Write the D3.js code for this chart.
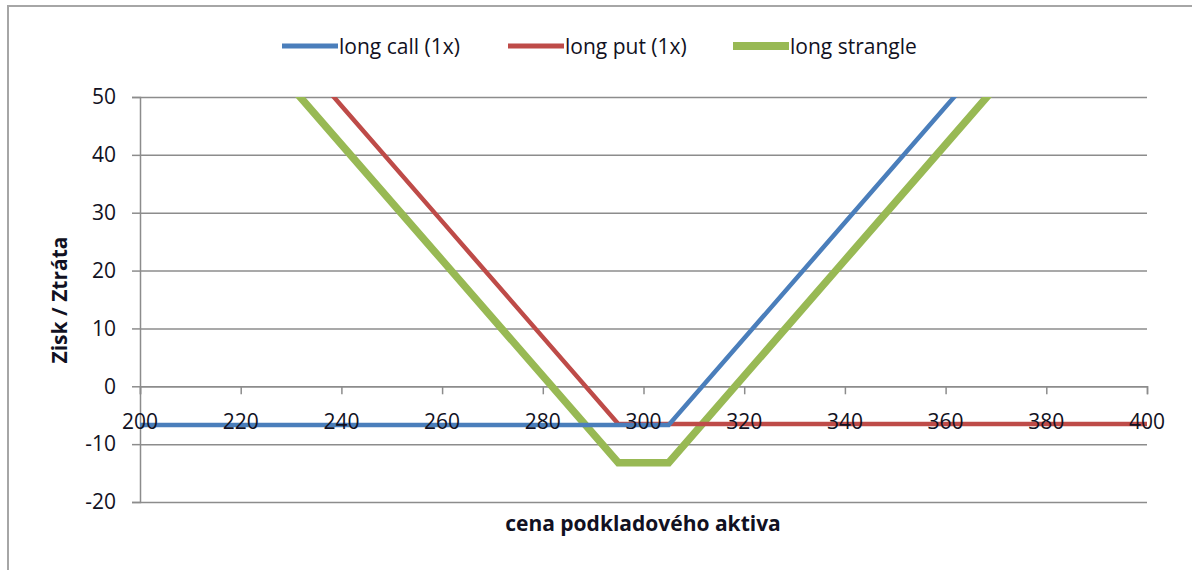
<!DOCTYPE html>
<html><head><meta charset="utf-8">
<script src="https://cdn.jsdelivr.net/npm/d3@7"></script>
<style>
body{margin:0;background:#fff;}
text{font-family:"Open Sans","Liberation Sans",sans-serif;}
</style></head><body>
<svg id="c" width="1192" height="570"></svg>
<script>
const prices = [200, 220, 240, 260, 280, 295, 300, 305, 320, 340, 360, 380, 400];
const longCall = [-6.7, -6.7, -6.7, -6.7, -6.7, -6.7, -6.7, -6.7, 8.3, 28.3, 48.3, 68.3, 88.3];
const longPut = [88.5, 68.5, 48.5, 28.5, 8.5, -6.5, -6.5, -6.5, -6.5, -6.5, -6.5, -6.5, -6.5];
const longStrangle = [81.8, 61.8, 41.8, 21.8, 1.8, -13.2, -13.2, -13.2, 1.8, 21.8, 41.8, 61.8, 81.8];
const seriesNames = ["long call (1x)", "long put (1x)", "long strangle"];
const seriesColors = ["#4a7ebb", "#be4b48", "#98b954"];
const seriesWidths = [4.5, 4.5, 7.5];
const xTicks = [200, 220, 240, 260, 280, 300, 320, 340, 360, 380, 400];
const yTicks = [-20, -10, 0, 10, 20, 30, 40, 50];
const xTitle = "cena podkladového aktiva";
const yTitle = "Zisk / Ztráta";

const svg = d3.select("#c");
const L = 140, R = 1147, T = 97, B = 502;
const x = d3.scaleLinear().domain([200, 400]).range([L, R]);
const y = d3.scaleLinear().domain([-20, 50]).range([B, T]);
const txt = "#111122";

// outer border
svg.append("path").attr("d", `M8,570 L8,6 L1192,6`).attr("fill","none").attr("stroke","#a6a6a6").attr("stroke-width",2);

// gridlines + y axis
const yAxis = d3.axisLeft(y).tickValues(yTicks).tickSize(8).tickPadding(10).tickFormat(d => String(d));
const gy = svg.append("g").attr("transform", `translate(${L},0)`).call(yAxis);
gy.select(".domain").attr("stroke","#8c8c8c").attr("stroke-width",1.5);
gy.selectAll(".tick line").attr("stroke","#8c8c8c").attr("stroke-width",1.5);
gy.selectAll(".tick text").attr("font-size",21).attr("fill",txt).attr("dx",-6);
gy.selectAll(".tick").append("line").attr("x1",0).attr("x2",R-L).attr("stroke","#8c8c8c").attr("stroke-width",1.5);

// x axis at y=0
const xAxis = d3.axisBottom(x).tickValues(xTicks).tickSize(8).tickFormat(d => String(d));

svg.append("clipPath").attr("id","clip").append("rect").attr("x",L-10).attr("y",T).attr("width",R-L+20).attr("height",B-T);

const gx = svg.append("g").attr("transform", `translate(0,${y(0)})`).call(xAxis);
gx.select(".domain").attr("stroke","#8c8c8c").attr("stroke-width",1.5);
gx.selectAll(".tick line").attr("stroke","#8c8c8c").attr("stroke-width",1.5);
gx.selectAll(".tick text").remove();

const data = [longCall, longPut, longStrangle];
const line = d3.line().x((d,i)=>x(prices[i])).y(d=>y(d));
const gl = svg.append("g").attr("clip-path","url(#clip)");
[2,1,0].forEach(k=>{
  gl.append("path").datum(data[k]).attr("d",line).attr("fill","none")
    .attr("stroke",seriesColors[k]).attr("stroke-width",seriesWidths[k]).attr("stroke-linejoin","miter");
});

// x tick labels on top of lines
svg.append("g").selectAll("text").data(xTicks).join("text")
  .attr("x",d=>x(d)).attr("y",y(0)+43).attr("text-anchor","middle")
  .attr("font-size",21).attr("fill",txt).text(d=>d);

// axis titles
svg.append("text").attr("x",643).attr("y",531).attr("text-anchor","middle")
  .attr("font-size",21).attr("font-weight","bold").attr("fill",txt).text(xTitle);
svg.append("text").attr("transform",`translate(67,${300}) rotate(-90)`).attr("text-anchor","middle")
  .attr("font-size",21).attr("font-weight","bold").attr("fill",txt).text(yTitle);

// legend
const legX = [282, 508, 733];
const lg = svg.append("g");
seriesNames.forEach((n,i)=>{
  lg.append("line").attr("x1",legX[i]).attr("x2",legX[i]+56).attr("y1",46).attr("y2",46)
    .attr("stroke",seriesColors[i]).attr("stroke-width",seriesWidths[i]+0.5);
  lg.append("text").attr("x",legX[i]+57).attr("y",54).attr("font-size",21).attr("fill",txt).text(n);
});
</script></body></html>
